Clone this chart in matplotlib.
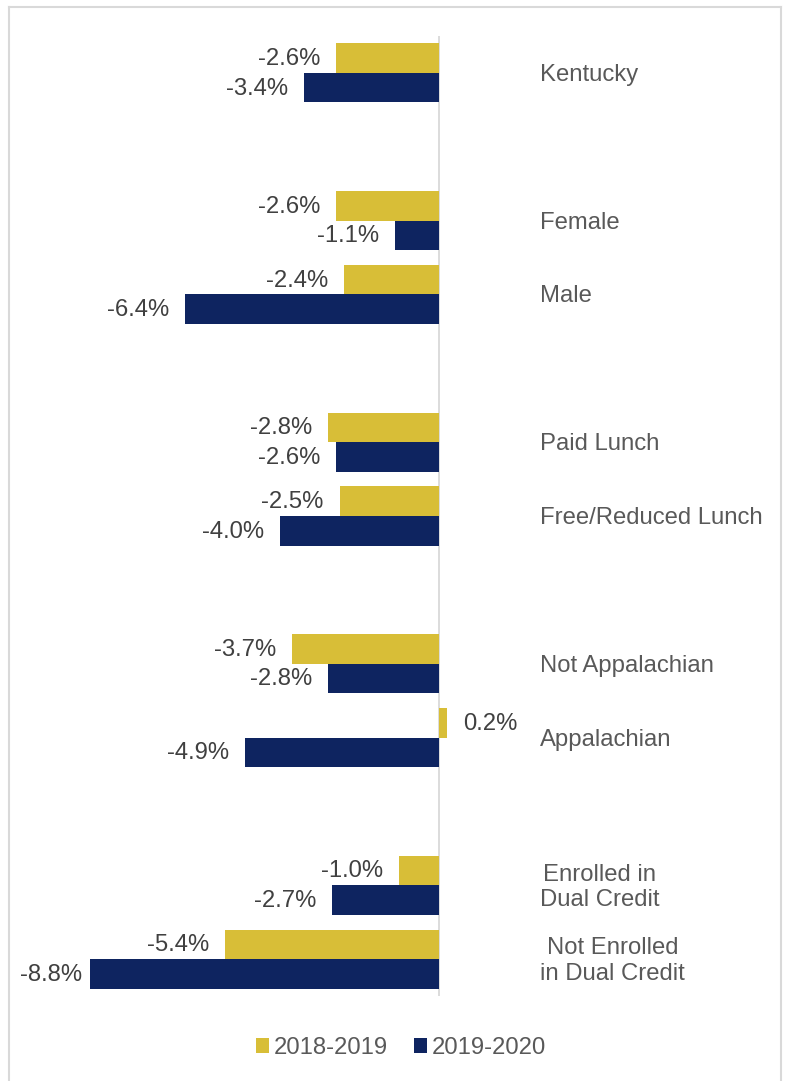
import matplotlib
matplotlib.use("Agg")
import matplotlib.pyplot as plt
from matplotlib.lines import Line2D
from matplotlib.patches import Patch

# ---- data ----
categories = ["Kentucky", "", "Female", "Male", "", "Paid Lunch",
              "Free/Reduced Lunch", "", "Not Appalachian", "Appalachian", "",
              "Enrolled in\nDual Credit", "Not Enrolled\nin Dual Credit"]
series_names = ["2018-2019", "2019-2020"]
vals_2018_2019 = [-2.6, None, -2.6, -2.4, None, -2.8, -2.5, None, -3.7, 0.2, None, -1.0, -5.4]
vals_2019_2020 = [-3.4, None, -1.1, -6.4, None, -2.6, -4.0, None, -2.8, -4.9, None, -2.7, -8.8]
colors = ["#D8BE37", "#0E2460"]

plt.rcParams['font.family'] = ['Liberation Sans', 'DejaVu Sans']

W, H = 785, 1081
fig = plt.figure(figsize=(W / 100, H / 100), dpi=100)

# axes geometry (pixels)
zero_px = 439
px_per_unit = 39.66
xmin, xmax = -10.0, 6.0
ax_left = zero_px + xmin * px_per_unit
ax_right = zero_px + xmax * px_per_unit
ax_top, ax_bot = 36, 996
ax = fig.add_axes([ax_left / W, 1 - ax_bot / H, (ax_right - ax_left) / W, (ax_bot - ax_top) / H])
ax.set_xlim(xmin, xmax)
n = len(categories)
ax.set_ylim(n - 0.5, -0.5)
ax.axis('off')

bh = 0.4
ax.axvline(0, color="#D9D9D9", lw=1.3, zorder=1)

label_color = "#404040"
cat_color = "#595959"
fs = 17.2

texts = []
for s, (vals, col) in enumerate(zip([vals_2018_2019, vals_2019_2020], colors)):
    for i, v in enumerate(vals):
        if v is None:
            continue
        y = i - bh / 2 + s * bh
        ax.barh(y, v, height=bh, color=col, edgecolor='none', zorder=2)
        txt = f"{v:.1f}%"
        if v < 0:
            t = ax.annotate(txt, (v, y), xytext=(-16, -1), textcoords='offset pixels',
                            ha='right', va='center', fontsize=fs, color=label_color)
        else:
            t = ax.annotate(txt, (v, y), xytext=(16, -1), textcoords='offset pixels',
                            ha='left', va='center', fontsize=fs, color=label_color)
        texts.append(t)

for i, c in enumerate(categories):
    if c:
        ax.annotate(c, (2.55, i), xytext=(0, -2), textcoords='offset pixels',
                    ha='left', va='center', multialignment='center',
                    fontsize=fs, color=cat_color, linespacing=1.2)

# legend
handles = [Patch(facecolor=colors[0], edgecolor='none', label=series_names[0]),
           Patch(facecolor=colors[1], edgecolor='none', label=series_names[1])]
leg = fig.legend(handles=handles, loc='center', bbox_to_anchor=(401 / W, 1 - 1048 / H),
                 ncol=2, frameon=False, fontsize=fs, handlelength=0.55, handleheight=0.55,
                 handletextpad=0.2, columnspacing=1.1)
for t in leg.get_texts():
    t.set_color(cat_color)

# keep data labels inside the chart area (shift if too far left)
fig.canvas.draw()
r = fig.canvas.get_renderer()
for t in texts:
    bb = t.get_window_extent(r)
    if bb.x0 < 20:
        t.set_position((t.xyann[0] + (20 - bb.x0), t.xyann[1]))

# border (top, left, right)
bc = "#D9D9D9"
fig.add_artist(Line2D([9 / W, 9 / W], [0, 1 - 7 / H], transform=fig.transFigure, color=bc, lw=1.5))
fig.add_artist(Line2D([781 / W, 781 / W], [0, 1 - 7 / H], transform=fig.transFigure, color=bc, lw=1.5))
fig.add_artist(Line2D([9 / W, 781 / W], [1 - 7 / H, 1 - 7 / H], transform=fig.transFigure, color=bc, lw=1.5))

fig.savefig("out.png", dpi=100, facecolor='white')
